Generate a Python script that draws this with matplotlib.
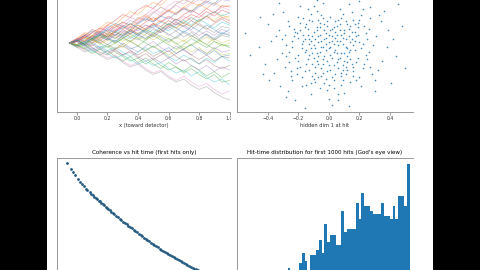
import matplotlib
matplotlib.use("Agg")
import matplotlib.pyplot as plt
from matplotlib.patches import Rectangle

# ---------------- data ----------------
# top-left: random walks (hidden dim 1 vs x), sampled at shared x positions
walk_x = [-0.05, 0.0, 0.05, 0.10, 0.15, 0.20, 0.25, 0.30, 0.35, 0.40, 0.45,
          0.50, 0.55, 0.60, 0.65, 0.70, 0.75, 0.80, 0.85, 0.90, 0.95, 1.00]
walks = [
    [0, 0.02, -0.01, 0.03, 0.05, 0.02, 0.06, 0.04, 0.08, 0.05, 0.03, 0.07, 0.04, 0.01, 0.04, 0.08, 0.05, 0.02, 0.06, 0.03, 0.07, 0.05],
    [0, 0.03, 0.06, 0.04, 0.09, 0.12, 0.10, 0.14, 0.11, 0.16, 0.19, 0.15, 0.18, 0.22, 0.19, 0.24, 0.21, 0.26, 0.23, 0.27, 0.24, 0.25],
    [0, -0.03, -0.01, -0.05, -0.08, -0.05, -0.09, -0.12, -0.09, -0.13, -0.10, -0.14, -0.17, -0.13, -0.16, -0.19, -0.15, -0.18, -0.22, -0.19, -0.23, -0.20],
    [0, 0.01, 0.04, 0.02, 0.00, 0.03, 0.07, 0.05, 0.09, 0.06, 0.10, 0.13, 0.09, 0.12, 0.16, 0.13, 0.11, 0.15, 0.18, 0.14, 0.17, 0.15],
    [0, -0.02, 0.01, -0.02, 0.02, -0.01, -0.04, 0.00, -0.03, -0.06, -0.02, 0.01, -0.03, -0.06, -0.02, -0.05, -0.08, -0.04, -0.07, -0.03, -0.06, -0.05],
    [0, 0.03, 0.01, 0.05, 0.08, 0.06, 0.11, 0.14, 0.12, 0.17, 0.15, 0.20, 0.24, 0.21, 0.26, 0.29, 0.27, 0.32, 0.30, 0.35, 0.33, 0.38],
    [0, -0.02, -0.05, -0.03, -0.07, -0.10, -0.08, -0.12, -0.15, -0.13, -0.17, -0.20, -0.18, -0.22, -0.25, -0.22, -0.26, -0.29, -0.27, -0.31, -0.34, -0.32],
    [0, 0.02, 0.00, 0.03, 0.01, 0.05, 0.03, 0.07, 0.04, 0.02, 0.06, 0.09, 0.07, 0.11, 0.08, 0.12, 0.09, 0.13, 0.10, 0.07, 0.11, 0.10],
    [0, -0.01, 0.02, 0.05, 0.03, 0.06, 0.04, 0.01, 0.04, 0.07, 0.05, 0.02, 0.05, 0.03, -0.01, 0.02, -0.02, 0.01, 0.04, 0.01, -0.02, 0.00],
    [0, 0.02, -0.01, -0.04, -0.02, -0.05, -0.03, -0.06, -0.09, -0.06, -0.03, -0.07, -0.05, -0.09, -0.12, -0.08, -0.11, -0.14, -0.10, -0.13, -0.09, -0.12],
    [0, 0.02, 0.05, 0.08, 0.06, 0.10, 0.13, 0.11, 0.09, 0.13, 0.16, 0.14, 0.18, 0.16, 0.20, 0.23, 0.21, 0.25, 0.28, 0.26, 0.31, 0.30],
    [0, -0.01, 0.02, 0.00, 0.04, 0.07, 0.05, 0.03, 0.07, 0.10, 0.08, 0.12, 0.15, 0.12, 0.10, 0.14, 0.17, 0.14, 0.18, 0.21, 0.17, 0.18],
    [0, -0.01, -0.04, -0.07, -0.04, -0.02, -0.06, -0.09, -0.12, -0.10, -0.14, -0.11, -0.15, -0.18, -0.16, -0.20, -0.17, -0.21, -0.24, -0.21, -0.26, -0.25],
    [0, 0.02, 0.05, 0.09, 0.07, 0.12, 0.15, 0.19, 0.17, 0.22, 0.25, 0.23, 0.28, 0.31, 0.29, 0.34, 0.37, 0.35, 0.40, 0.38, 0.43, 0.45],
    [0, 0.01, -0.02, 0.01, 0.04, 0.02, 0.05, 0.08, 0.06, 0.09, 0.12, 0.10, 0.07, 0.10, 0.13, 0.11, 0.08, 0.05, 0.08, 0.05, 0.09, 0.07],
    [0, -0.02, 0.00, -0.03, -0.06, -0.08, -0.05, -0.08, -0.06, -0.10, -0.07, -0.11, -0.08, -0.05, -0.09, -0.12, -0.10, -0.14, -0.11, -0.15, -0.17, -0.15],
    [0, 0.03, 0.01, 0.04, 0.02, 0.06, 0.09, 0.07, 0.11, 0.08, 0.12, 0.10, 0.14, 0.17, 0.14, 0.18, 0.15, 0.19, 0.16, 0.20, 0.24, 0.22],
    [0, -0.03, -0.06, -0.04, -0.08, -0.11, -0.09, -0.13, -0.16, -0.14, -0.18, -0.21, -0.19, -0.23, -0.26, -0.24, -0.28, -0.31, -0.29, -0.33, -0.36, -0.38],
    [0, 0.02, 0.04, 0.02, -0.01, 0.02, 0.00, -0.03, 0.01, 0.04, 0.02, 0.06, 0.03, 0.00, 0.04, 0.01, 0.05, 0.02, -0.01, 0.03, 0.00, 0.02],
    [0, -0.02, 0.01, 0.03, 0.06, 0.04, 0.08, 0.05, 0.03, 0.06, 0.09, 0.07, 0.11, 0.08, 0.12, 0.15, 0.12, 0.16, 0.13, 0.10, 0.14, 0.12],
    [0, 0.01, -0.02, 0.00, -0.03, -0.01, 0.02, -0.01, -0.04, -0.02, -0.05, -0.02, -0.06, -0.03, -0.07, -0.04, -0.01, -0.05, -0.08, -0.05, -0.09, -0.08],
    [0, 0.01, 0.04, 0.02, 0.06, 0.04, 0.08, 0.12, 0.10, 0.14, 0.18, 0.15, 0.19, 0.22, 0.20, 0.24, 0.27, 0.25, 0.29, 0.33, 0.31, 0.34],
    [0, 0.02, -0.01, 0.02, 0.05, 0.03, 0.00, 0.03, 0.01, -0.02, 0.02, 0.05, 0.02, -0.01, -0.04, -0.01, 0.03, 0.00, -0.03, 0.01, -0.01, -0.02],
    [0, 0.02, 0.05, 0.03, 0.07, 0.04, 0.08, 0.11, 0.08, 0.12, 0.09, 0.13, 0.11, 0.15, 0.12, 0.16, 0.19, 0.17, 0.21, 0.18, 0.22, 0.20],
    [0, 0.01, 0.03, 0.07, 0.05, 0.09, 0.07, 0.11, 0.15, 0.13, 0.17, 0.14, 0.18, 0.21, 0.19, 0.23, 0.20, 0.24, 0.27, 0.25, 0.29, 0.28],
    [0, -0.02, -0.04, -0.01, -0.04, -0.07, -0.04, -0.02, -0.05, -0.08, -0.05, -0.09, -0.06, -0.10, -0.07, -0.04, -0.08, -0.11, -0.08, -0.12, -0.09, -0.10],
    [0, 0.02, 0.06, 0.04, 0.08, 0.11, 0.09, 0.13, 0.17, 0.15, 0.19, 0.23, 0.20, 0.25, 0.28, 0.26, 0.30, 0.33, 0.31, 0.36, 0.38, 0.40],
    [0, 0.01, 0.03, 0.00, 0.03, 0.06, 0.03, 0.06, 0.09, 0.06, 0.03, 0.06, 0.09, 0.05, 0.08, 0.04, 0.07, 0.03, 0.06, 0.02, 0.05, 0.04],
    [0, -0.01, 0.02, 0.05, 0.02, 0.05, 0.08, 0.05, 0.09, 0.12, 0.09, 0.06, 0.10, 0.13, 0.10, 0.14, 0.11, 0.15, 0.18, 0.15, 0.19, 0.16],
    [0, -0.01, -0.03, -0.06, -0.04, -0.07, -0.10, -0.08, -0.11, -0.14, -0.12, -0.15, -0.13, -0.17, -0.20, -0.18, -0.22, -0.19, -0.23, -0.26, -0.24, -0.28],
    [0, 0.02, 0.05, 0.03, 0.06, 0.03, 0.01, 0.05, 0.08, 0.05, 0.09, 0.12, 0.09, 0.13, 0.10, 0.07, 0.11, 0.08, 0.12, 0.09, 0.06, 0.09],
    [0, 0.03, 0.07, 0.05, 0.10, 0.14, 0.12, 0.17, 0.21, 0.19, 0.24, 0.27, 0.25, 0.30, 0.34, 0.32, 0.37, 0.41, 0.39, 0.44, 0.48, 0.52],
    [0, -0.02, 0.00, 0.03, 0.00, -0.03, 0.00, 0.03, 0.06, 0.03, 0.00, -0.03, 0.00, 0.03, 0.00, -0.04, -0.01, 0.02, -0.01, -0.04, -0.01, -0.03],
    [0, 0.01, 0.04, 0.07, 0.10, 0.08, 0.12, 0.09, 0.13, 0.10, 0.14, 0.17, 0.14, 0.18, 0.15, 0.19, 0.22, 0.19, 0.23, 0.20, 0.25, 0.24],
    [0, 0.01, -0.02, -0.05, -0.03, -0.06, -0.04, -0.08, -0.05, -0.09, -0.12, -0.10, -0.13, -0.10, -0.14, -0.11, -0.15, -0.18, -0.15, -0.19, -0.16, -0.18],
    [0, 0.02, -0.01, 0.02, 0.05, 0.08, 0.05, 0.09, 0.06, 0.10, 0.07, 0.04, 0.08, 0.11, 0.14, 0.11, 0.15, 0.12, 0.09, 0.13, 0.16, 0.13],
    [0, 0.03, 0.01, 0.04, 0.07, 0.10, 0.08, 0.12, 0.10, 0.14, 0.17, 0.21, 0.18, 0.22, 0.25, 0.22, 0.26, 0.29, 0.27, 0.31, 0.29, 0.33],
    [0, -0.01, 0.01, 0.04, 0.07, 0.04, 0.01, 0.04, 0.01, 0.05, 0.08, 0.05, 0.09, 0.06, 0.03, 0.07, 0.04, 0.08, 0.05, 0.02, 0.06, 0.06],
    [0, -0.01, -0.03, 0.00, 0.02, -0.01, -0.04, -0.01, 0.02, -0.02, -0.05, -0.02, -0.05, -0.08, -0.05, -0.02, -0.06, -0.03, -0.07, -0.04, -0.08, -0.07],
    [0, 0.02, 0.00, 0.03, 0.06, 0.09, 0.07, 0.10, 0.13, 0.10, 0.07, 0.11, 0.14, 0.12, 0.16, 0.13, 0.17, 0.14, 0.18, 0.21, 0.18, 0.20],
]
walk_xticks = [0.0, 0.2, 0.4, 0.6, 0.8, 1.0]

# top-right: hidden dims at hit
hit_points = [
    (-0.05, 0.02), (0.12, -0.08), (-0.21, 0.11), (0.03, 0.15), (-0.14, -0.06), (0.22, 0.04), (-0.31, -0.02), (0.08, 0.21), (-0.02, -0.19), (0.17, 0.12),
    (-0.09, 0.07), (0.01, -0.03), (-0.25, -0.14), (0.27, -0.11), (-0.12, 0.24), (0.05, 0.06), (-0.18, 0.01), (0.14, -0.21), (-0.04, 0.31), (0.31, 0.09),
    (-0.38, 0.06), (0.09, -0.13), (-0.07, -0.09), (0.19, 0.18), (-0.16, 0.15), (0.02, 0.09), (-0.27, 0.19), (0.11, 0.02), (-0.01, -0.26), (0.24, -0.03),
    (-0.11, -0.17), (0.06, -0.06), (-0.22, -0.05), (0.15, 0.07), (-0.03, 0.13), (0.35, -0.07), (-0.33, 0.13), (0.04, -0.16), (-0.15, -0.23), (0.21, 0.23),
    (-0.06, 0.18), (0.10, 0.11), (-0.19, -0.11), (0.00, 0.01), (-0.28, 0.03), (0.16, -0.14), (-0.08, -0.02), (0.07, 0.27), (-0.13, 0.04), (0.26, 0.14),
    (-0.42, -0.09), (0.13, -0.01), (-0.02, 0.08), (0.20, -0.18), (-0.17, 0.21), (0.03, -0.10), (-0.24, -0.20), (0.29, 0.03), (-0.10, 0.12), (0.08, -0.23),
    (-0.36, -0.15), (0.18, 0.09), (-0.05, -0.12), (0.12, 0.17), (-0.20, 0.08), (0.01, 0.22), (-0.12, -0.29), (0.23, -0.09), (-0.30, 0.25), (0.06, 0.03),
    (-0.07, 0.05), (0.34, 0.19), (-0.14, 0.10), (0.10, -0.28), (-0.01, -0.07), (0.15, 0.25), (-0.23, 0.14), (0.05, -0.02), (-0.09, -0.21), (0.28, -0.16),
    (-0.46, 0.02), (0.02, 0.14), (-0.16, -0.01), (0.19, -0.05), (-0.04, -0.15), (0.09, 0.08), (-0.26, -0.08), (0.13, 0.30), (-0.11, 0.19), (0.38, 0.02),
    (-0.19, 0.29), (0.00, -0.32), (-0.32, -0.24), (0.17, 0.00), (-0.06, 0.10), (0.24, 0.11), (-0.13, -0.13), (0.04, 0.19), (-0.21, -0.16), (0.11, -0.11),
    (-0.03, -0.04), (0.07, 0.13), (-0.17, 0.06), (0.21, -0.24), (-0.08, 0.26), (0.14, 0.05), (-0.29, -0.11), (0.03, -0.20), (-0.10, -0.05), (0.32, -0.13),
    (-0.40, 0.17), (0.16, 0.20), (-0.02, 0.04), (0.08, -0.17), (-0.24, 0.02), (0.25, 0.07), (-0.15, 0.17), (0.01, -0.13), (-0.06, -0.25), (0.19, 0.15),
    (-0.35, 0.09), (0.12, -0.04), (-0.08, 0.15), (0.44, -0.04), (-0.18, -0.18), (0.05, 0.10), (-0.12, 0.01), (0.27, 0.21), (-0.27, -0.27), (0.09, 0.24),
    (-0.04, 0.21), (0.15, -0.09), (-0.20, -0.03), (0.02, 0.06), (-0.31, 0.07), (0.18, -0.20), (-0.09, -0.15), (0.22, 0.27), (-0.14, 0.27), (0.06, -0.29),
    (0.48, 0.16), (-0.52, -0.03), (0.41, -0.22), (-0.45, 0.22), (0.36, 0.26), (-0.39, -0.20), (0.02, -0.36), (-0.08, 0.33), (0.30, -0.27), (-0.22, -0.33),
    (0.50, -0.12), (-0.55, 0.11), (0.13, -0.37), (0.45, 0.30), (-0.33, 0.31), (0.20, 0.32), (-0.16, -0.38), (0.39, 0.13),
    (-0.01, 0.16), (0.10, -0.07), (-0.07, -0.18), (0.16, 0.03), (-0.23, 0.09), (0.04, 0.00), (-0.11, -0.09), (0.26, -0.01), (-0.05, 0.23), (0.09, -0.20),
    (-0.19, 0.13), (0.14, 0.16), (-0.26, 0.16), (0.00, -0.10), (-0.13, 0.07), (0.20, 0.05), (-0.03, -0.22), (0.07, 0.17), (-0.28, -0.04), (0.11, 0.07),
    (-0.06, -0.01), (0.03, 0.04), (-0.10, 0.03), (0.08, -0.02), (-0.02, 0.11), (0.13, 0.09), (-0.15, -0.09), (0.05, -0.08), (-0.08, 0.13), (0.00, 0.05),
    (-0.13, -0.03), (0.10, 0.13), (-0.04, -0.06), (0.16, -0.11), (-0.18, 0.04), (0.02, -0.05), (-0.07, 0.20), (0.12, 0.01), (-0.21, -0.12), (0.07, 0.06),
    (-0.01, -0.14), (0.17, 0.06), (-0.11, 0.09), (0.04, 0.12), (-0.16, -0.14), (0.09, -0.10), (-0.05, 0.06), (0.21, 0.01), (-0.24, 0.06), (0.01, 0.02),
    (-0.09, -0.11), (0.14, -0.06), (-0.03, 0.17), (0.06, -0.12), (-0.14, 0.14), (0.11, 0.19), (-0.20, -0.07), (0.03, -0.01), (-0.07, -0.04), (0.18, -0.08),
    (-0.12, 0.06), (0.00, 0.10), (-0.17, 0.10), (0.09, 0.04), (-0.04, -0.09), (0.23, 0.16), (-0.26, -0.01), (0.05, 0.16), (-0.10, -0.19), (0.15, 0.12),
    (-0.02, 0.00), (0.08, -0.15), (-0.19, 0.18), (0.12, -0.13), (-0.06, 0.15), (0.02, -0.18), (-0.15, 0.00), (0.19, 0.10), (-0.08, -0.07), (0.04, 0.08),
    (-0.22, 0.12), (0.10, -0.02), (-0.01, 0.19), (0.16, -0.17), (-0.12, -0.22), (0.06, 0.20), (-0.05, -0.17), (0.25, -0.06), (-0.29, 0.10), (0.00, -0.23),
    (-0.09, 0.01), (0.13, 0.14), (-0.18, -0.24), (0.07, -0.05), (-0.03, 0.07), (0.20, 0.20), (-0.13, 0.20), (0.01, 0.13), (-0.07, 0.09), (0.14, 0.00),
    (-0.25, -0.17), (0.11, -0.16), (-0.04, 0.02), (0.17, 0.17), (-0.16, 0.07), (0.03, -0.25), (-0.11, -0.02), (0.22, -0.12), (-0.20, 0.22), (0.08, 0.10),
    (-0.34, -0.06), (0.30, -0.20), (-0.37, 0.24), (0.33, 0.23), (-0.43, -0.16), (0.42, 0.07), (0.27, 0.28), (-0.10, 0.29), (0.06, -0.33), (-0.28, -0.31),
]
hit_dim1 = [p[0] for p in hit_points]
hit_dim2 = [p[1] for p in hit_points]
hit_xticks = [-0.4, -0.2, 0.0, 0.2, 0.4]

# bottom-left: coherence vs hit time (first hits only)
hit_time = [11, 16, 18.5, 21, 24, 27, 28.5, 31, 33.5, 35, 37.5, 39, 41, 43, 44.5,
            46, 48, 49, 51, 52.5, 54, 56, 57, 59, 60.5,
            62, 64, 66, 68, 70, 72, 74, 76, 78, 80, 82, 84, 86, 88, 90,
            92, 94, 96, 98, 100, 102, 104, 106, 108, 110, 112, 114, 116, 118, 120,
            122, 124, 126, 128, 130, 132, 134, 136, 138, 140, 142, 144, 146, 148, 150,
            152, 154, 156, 158, 160, 162, 164, 166, 168, 170, 172, 174, 176, 178, 180,
            182, 184, 186, 188, 190]
coherence = [0.970, 0.934, 0.917, 0.901, 0.881, 0.864, 0.855, 0.841, 0.8275, 0.820, 0.8075, 0.800, 0.790, 0.780, 0.773,
             0.768, 0.760, 0.756, 0.747, 0.741, 0.734, 0.725, 0.721, 0.712, 0.706,
             0.700, 0.692, 0.684, 0.676, 0.668, 0.660, 0.652, 0.644, 0.637, 0.629, 0.622, 0.615, 0.607, 0.600, 0.592,
             0.585, 0.577, 0.570, 0.563, 0.555, 0.548, 0.540, 0.534, 0.527, 0.520, 0.514, 0.507, 0.501, 0.494, 0.488,
             0.482, 0.476, 0.470, 0.464, 0.458, 0.452, 0.446, 0.440, 0.434, 0.429, 0.423, 0.418, 0.413, 0.407, 0.402,
             0.397, 0.392, 0.388, 0.383, 0.378, 0.373, 0.368, 0.364, 0.359, 0.355, 0.351, 0.346, 0.342, 0.337, 0.333,
             0.329, 0.324, 0.320, 0.315, 0.311]

# bottom-right: hit-time histogram for first 1000 hits
bin_start = 90
bin_width = 5
hist_counts = [1, 0, 0, 0, 3, 7, 4, 0, 6, 6, 8, 12, 7, 18, 11, 14, 14, 10, 10, 23, 15,
               16, 16, 16, 26, 20, 30, 25, 25, 23, 22, 22, 22, 26, 21, 21, 20, 25, 20,
               29, 29, 25, 41]

# ---------------- figure ----------------
W, H = 480, 270
fig = plt.figure(figsize=(W / 100, H / 100), dpi=100)
fig.patch.set_facecolor("black")
fig.add_artist(Rectangle((47 / W, 0), (433 - 47) / W, 1, transform=fig.transFigure,
                         facecolor="white", edgecolor="none", zorder=-5))


def px_axes(l, t, r, b):
    return fig.add_axes([l / W, 1 - b / H, (r - l) / W, (b - t) / H])


def style(ax):
    for s in ("left", "bottom", "top"):
        ax.spines[s].set_color("0.6")
        ax.spines[s].set_linewidth(0.7)
    ax.spines["right"].set_visible(False)
    ax.set_yticks([])
    ax.tick_params(axis="x", labelsize=3.3, length=2, width=0.5, color="0.45",
                   pad=1.2, labelcolor="#333333")


LABEL_FS = 3.7
TITLE_FS = 4.1

# top-left: walks
ax1 = px_axes(57, -60, 231, 112)
style(ax1)
for w in walks:
    ax1.plot(walk_x, w, lw=0.5, alpha=0.45)
ax1.set_xlim(-0.1311, 1.0098)
ax1.set_ylim(-0.46, 0.687)
ax1.set_xticks(walk_xticks)
ax1.set_xticklabels([f"{v:.1f}" for v in walk_xticks])
ax1.set_xlabel("x (toward detector)", fontsize=LABEL_FS, labelpad=1.2, color="#333333")

# top-right: scatter of hidden dims
ax2 = px_axes(237, -60, 413, 112)
style(ax2)
ax2.scatter(hit_dim1, hit_dim2, s=1.3, color="#1f77b4", alpha=0.85, linewidths=0)
ax2.set_xlim(-0.603, 0.551)
ax2.set_ylim(-0.408, 0.724)
ax2.set_xticks(hit_xticks)
ax2.set_xticklabels([f"{v:.1f}".replace("-", "\u2212") for v in hit_xticks])
ax2.set_xlabel("hidden dim 1 at hit", fontsize=LABEL_FS, labelpad=1.2, color="#333333")

# cover the cropped edge of the left column
fig.add_artist(Rectangle((231 / W, 1 - 130 / H), 6 / W, 130 / H, transform=fig.transFigure,
                         facecolor="white", edgecolor="none", zorder=5))

# bottom-left: coherence vs hit time
ax3 = px_axes(57, 157.5, 231, 330)
style(ax3)
ax3.scatter(hit_time, coherence, s=4, color="#245a80", linewidths=0)
ax3.set_xlim(0, 200)
ax3.set_ylim(0.0417, 1.0)
ax3.set_xticks([])
ax3.set_title("Coherence vs hit time (first hits only)", fontsize=TITLE_FS, pad=2.2)

# bottom-right: histogram
ax4 = px_axes(236.5, 157.5, 413, 330)
style(ax4)
edges = [bin_start + i * bin_width for i in range(len(hist_counts) + 1)]
ax4.hist(edges[:-1], bins=edges, weights=hist_counts, color="#1f77b4")
ax4.set_xlim(0, 311)
ax4.set_ylim(-22.7, 43.65)
ax4.set_xticks([])
ax4.set_title("Hit-time distribution for first 1000 hits (God's eye view)", fontsize=TITLE_FS, pad=2.2)

fig.savefig("out.png", dpi=100, facecolor=fig.get_facecolor())
